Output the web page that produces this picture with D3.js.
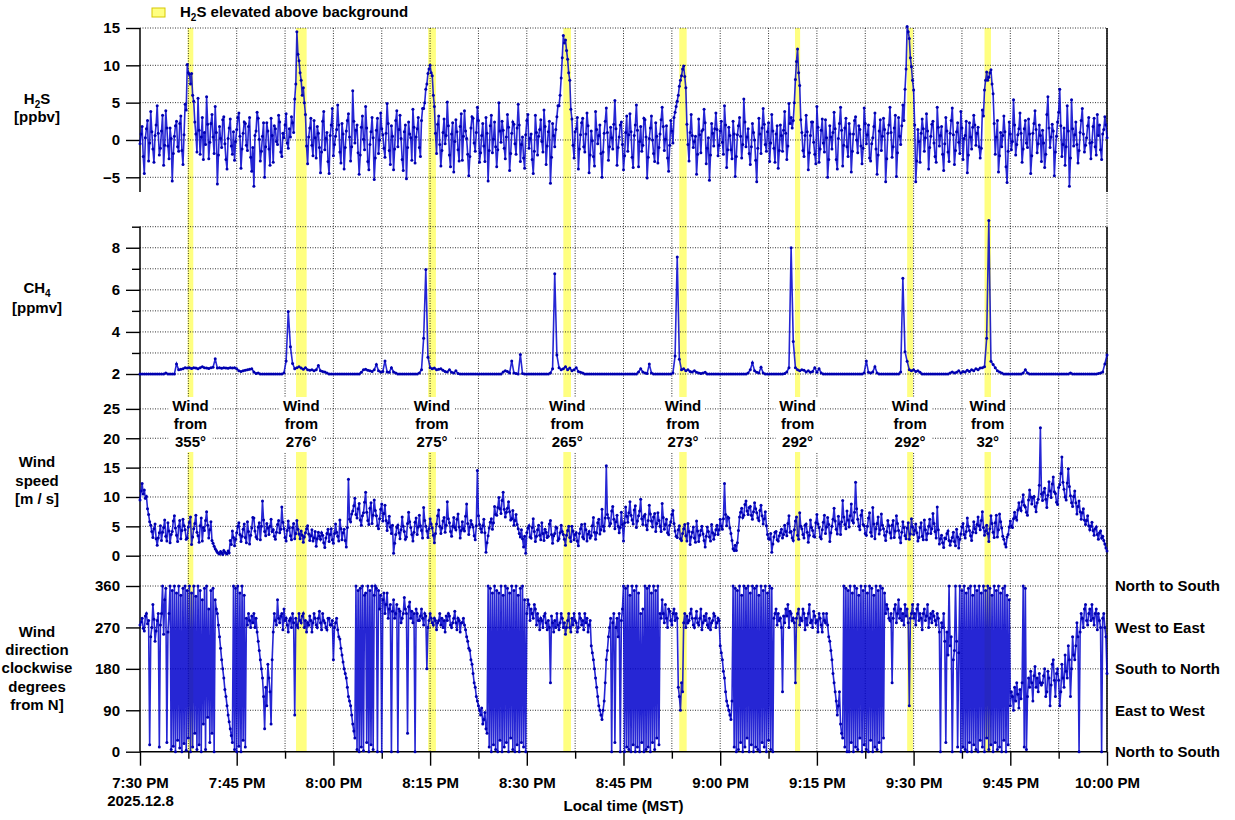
<!DOCTYPE html>
<html>
<head>
<meta charset="utf-8">
<script src="https://cdn.jsdelivr.net/npm/d3@7"></script>
<style>
  body { margin: 0; background: #fff; }
  text { font-family: "Liberation Sans", Arial, sans-serif; font-weight: bold; }
</style>
</head>
<body>
<div id="chart"></div>
<script>
// samples start at 7:30:00 PM; H2S and wind every 10 s, CH4 every 20 s
var day = "2025-12-08 ";
var startClock = "19:30:00", endClock = "22:00:00";
var fastStep = 10, ch4Step = 20;

// H2S [ppbv], 10 s
var h2s = [
  -0.5,0.8,1.8,-2.2,-4.5,0.3,1.5,2.6,-2.8,-0.4,3.8,1.1,-1.2,-3.0,0.6,2.0,4.6,0.9,-2.0,-1.1,1.2,3.3,-3.4,-0.7,3.9,1.6,-0.8,-2.5,1.6,0.2,
  -5.5,-1.8,0.5,1.9,2.5,-0.9,-1.5,2.2,3.2,-1.4,-3.3,0.7,4.8,4.0,10.1,9.0,8.8,7.5,8.9,6.0,5.2,2.4,0.8,-1.6,5.6,1.3,-1.9,0.4,3.0,-2.6,
  1.0,-0.6,5.8,2.1,-2.5,-0.3,2.2,3.4,0.4,-1.8,4.5,1.0,-5.9,-2.0,1.8,0.2,-1.0,2.7,3.1,-0.5,-2.6,-3.9,0.2,1.6,2.8,-0.8,-1.9,1.1,-2.7,-0.2,
  1.4,3.0,3.6,0.5,-3.8,-1.2,0.9,2.4,2.2,-0.7,-1.4,1.8,3.0,-2.3,-4.2,-1.0,-6.2,0.6,1.2,3.7,2.9,0.1,-2.8,-1.5,0.5,2.3,-5.0,-0.9,2.3,1.2,
  -1.2,-3.4,2.9,0.6,-3.0,1.9,1.5,-0.2,-0.6,3.3,2.4,-1.6,-2.2,0.9,0.3,2.0,3.5,-0.4,-1.1,1.5,0.4,3.1,2.3,1.0,5.5,7.5,14.5,11.5,10.6,9.0,
  8.0,6.0,7.0,5.0,3.4,-0.8,-3.2,0.4,1.6,2.9,-0.7,-2.1,2.6,0.3,-2.4,1.8,0.9,-1.0,-4.4,-1.6,2.5,3.8,-1.3,0.2,1.0,-2.9,-4.5,0.6,2.0,4.2,
  -2.1,-0.6,0.5,1.4,4.7,2.0,-1.6,-3.1,2.2,0.8,-3.9,-1.0,1.2,2.6,3.5,0.4,-2.8,-0.9,6.6,2.5,-0.4,1.3,2.0,-1.7,-4.6,-2.0,1.7,3.2,0.1,-1.3,
  4.5,1.6,-2.9,-4.0,-0.6,1.1,3.0,0.3,-5.3,-2.4,1.3,2.9,-1.8,0.0,3.6,1.5,0.7,-1.1,-2.3,0.9,4.9,2.2,-1.4,-3.3,1.9,0.5,-4.0,-1.2,2.6,3.9,
  -0.9,1.4,3.3,0.2,-2.6,-4.1,1.1,2.0,-5.2,-1.0,2.4,0.8,0.3,-2.7,4.1,1.7,-3.1,0.4,1.5,3.0,-1.0,-2.2,2.6,4.2,4.2,5.0,6.8,7.5,8.9,9.5,
  10.0,9.0,8.6,6.0,4.5,0.9,-1.8,2.1,3.2,-0.6,-3.5,-1.4,1.0,2.8,-0.5,0.6,5.1,1.9,-2.0,-3.6,0.8,2.3,-4.3,-0.2,2.7,1.1,-1.3,-2.8,1.8,3.5,
  -2.7,0.5,3.9,1.2,0.2,-1.9,-4.8,-2.2,1.6,3.1,2.9,-0.4,-1.5,1.0,4.4,2.6,-3.0,-1.7,0.6,2.2,-0.8,-2.9,3.0,0.9,-5.5,-1.4,1.9,3.3,-1.7,0.1,
  2.4,-0.9,-3.6,-1.3,5.0,1.2,-0.3,2.5,1.3,-1.1,-2.5,0.4,3.4,1.7,-4.1,-1.8,0.9,2.4,2.1,-0.5,-1.9,1.6,4.8,2.0,-2.9,-0.6,0.4,-2.4,-3.8,0.7,
  2.6,3.4,-1.1,0.2,0.8,-2.6,-4.5,-1.5,3.3,1.0,-2.0,0.5,1.4,2.7,-0.2,-1.6,4.0,1.8,-3.3,-0.8,1.1,2.5,-5.8,-2.3,2.2,0.6,-0.9,1.4,3.1,4.6,
  4.6,6.0,8.3,11.0,14.0,13.0,13.4,12.0,10.8,9.0,8.0,4.1,2.8,-0.7,-2.4,1.1,1.5,3.0,-3.9,-1.2,0.7,2.3,2.9,-0.9,-1.6,0.8,3.6,1.9,-4.4,-2.0,
  1.2,-0.1,-2.2,-3.5,3.8,1.4,-0.5,0.6,2.0,-1.8,-5.0,-1.6,0.9,2.5,4.3,1.0,-2.7,-0.9,1.7,0.3,-1.2,2.1,5.3,1.5,-3.4,-1.0,0.4,2.0,2.4,-0.6,
  -4.0,-2.1,1.0,3.2,-1.5,0.7,3.5,1.1,-2.3,-3.7,0.6,2.0,4.7,1.3,-3.6,-0.2,1.8,-1.5,-0.7,2.9,2.7,0.4,-5.1,-2.3,0.2,1.6,3.2,0.0,-1.8,-2.9,
  2.3,0.5,-3.1,-1.0,0.8,2.7,4.4,1.8,-1.4,0.1,1.9,-2.4,-4.2,-0.7,2.6,1.2,-0.4,3.0,3.7,4.5,5.2,6.0,7.2,8.0,8.6,9.5,9.9,8.5,7.0,2.1,
  -0.6,-2.8,1.0,3.4,0.6,-1.0,-0.2,0.5,-4.6,-1.9,2.8,0.7,-1.7,1.2,1.4,4.1,2.3,-3.2,-1.1,0.3,-5.4,-2.0,2.2,0.9,-0.8,1.5,3.6,1.4,-2.1,-0.7,
  1.2,2.5,-0.3,-1.9,4.6,2.0,-3.7,-1.3,1.7,0.6,-1.3,-2.5,2.5,0.8,-4.9,-2.2,0.7,1.9,3.0,0.5,-2.4,-0.6,5.5,2.4,-0.9,0.4,1.5,-1.8,-3.3,-0.9,
  2.2,1.0,0.0,-2.7,-5.6,-1.1,2.9,0.8,-1.8,1.6,4.2,2.1,-0.6,-1.5,1.1,2.3,-2.9,-0.4,3.4,1.2,-1.1,-3.0,0.8,1.9,-3.8,-1.4,2.0,0.6,-1.5,1.3,
  3.8,0.9,-2.6,-0.8,4.9,2.2,3.0,1.6,2.6,5.0,8.1,10.5,12.2,9.0,7.3,2.7,1.0,-1.4,-2.2,0.6,3.3,1.1,-4.0,-1.7,0.6,2.4,2.4,-0.3,-1.9,-3.2,
  4.5,1.7,-3.0,-1.2,1.3,2.8,-0.4,-1.6,2.7,0.3,-5.0,-2.6,1.9,0.4,-1.2,1.0,3.7,1.5,-2.6,-3.9,0.2,2.2,4.4,1.3,-3.5,-0.7,1.6,2.9,-0.9,-2.2,
  2.2,0.8,-4.3,-1.5,0.8,2.6,3.1,0.0,-1.7,1.9,1.4,-0.8,-3.2,-1.1,4.3,2.2,-0.5,0.7,2.0,-2.4,-2.8,-0.5,0.3,1.8,3.6,-1.2,-4.6,-2.0,1.2,2.7,
  -1.4,0.5,2.9,1.4,-5.6,-2.5,0.9,2.0,4.4,1.0,-2.3,-0.9,1.6,3.3,-4.9,-1.7,3.0,0.5,-0.6,1.9,4.7,2.6,6.8,9.5,15.2,14.5,13.6,11.0,9.8,8.0,
  6.7,2.0,-5.6,-2.8,1.4,-0.2,-3.0,0.9,2.8,1.5,-1.5,0.3,3.5,1.2,-3.9,-1.0,0.5,2.1,2.5,-0.4,-2.2,-3.0,4.4,1.7,-0.8,0.6,1.8,-1.9,-4.1,-0.5,
  3.0,1.2,-1.6,-2.9,0.9,2.6,4.3,0.7,-3.3,-1.4,1.1,2.3,-0.3,-1.8,3.8,1.6,-2.6,0.2,0.6,2.5,-4.4,-2.0,2.3,0.4,-1.2,1.7,3.3,2.0,-0.7,0.9,
  1.7,-0.9,-2.4,-1.1,4.0,3.2,6.7,8.0,9.1,8.0,8.4,9.0,9.4,7.5,6.2,2.2,-1.9,0.4,2.6,-4.3,-2.1,1.0,-0.9,0.6,3.2,1.1,-3.6,-5.7,-1.5,2.4,
  0.8,-1.3,-0.2,5.4,2.0,-2.0,-0.6,0.7,1.5,3.6,0.9,-3.0,-1.2,1.5,2.6,-0.4,-1.0,2.8,0.8,-4.5,-2.1,0.9,2.2,3.9,1.4,-1.7,-0.5,2.0,0.6,-2.9,
  1.3,-0.4,-3.7,-1.9,3.4,5.8,1.6,-1.0,0.4,2.1,1.2,-4.8,-1.6,0.5,2.4,3.7,6.8,1.9,-2.2,-0.6,1.6,-3.4,-0.9,4.6,1.2,-6.2,-2.4,5.4,1.5,-0.8,
  0.7,2.4,-0.6,-3.1,-1.4,1.0,2.6,4.2,0.8,-1.6,-0.7,0.3,1.9,3.0,-0.4,-2.5,-0.3,1.8,2.9,-0.9,-2.0,3.4,0.6,2.0,-1.3,-2.6,0.8,1.4,3.1,2.0,
  0.3
];

// CH4 [ppmv], 20 s
var ch4 = [
  2,2,2,2,2,2,2,2,2,2,2,2,2.05,2,2,2,2,2.48,2.2,2.22,2.25,2.3,2.28,2.3,2.26,2.3,2.28,2.25,2.3,2.35,
  2.3,2.28,2.26,2.3,2.32,2.72,2.28,2.3,2.27,2.3,2.29,2.27,2.3,2.28,2.3,2.25,2.15,2.12,2.15,2.18,2.2,2.22,2.25,2.1,2.02,2.05,2,2,2,2,
  2,2,2,2,2,2,2,2.05,2.62,4.97,3.3,2.5,2.25,2.3,2.35,2.28,2.22,2.3,2.2,2.18,2.2,2.15,2.2,2.4,2.15,2.12,2.1,2.05,2,2,
  2,2,2,2,2,2,2,2,2,2,2,2,2,2.08,2.2,2.22,2.18,2.15,2.12,2.2,2.45,2.15,2.1,2.12,2.62,2.1,2.08,2.3,2.1,2.05,
  2,2,2,2,2,2,2,2,2,2,2.05,2.2,3.7,6.97,2.8,2.3,2.25,2.28,2.2,2.22,2.25,2.18,2.12,2.1,2.2,2.08,2.05,2.15,2.02,2,
  2,2,2,2,2,2,2,2,2,2,2,2,2,2,2,2,2,2,2,2.1,2.15,2.12,2.05,2.62,2.05,2.02,2,2.93,2.02,2,
  2,2,2,2,2,2,2,2,2,2,2,2.05,2.25,6.76,2.9,2.3,2.2,2.25,2.35,2.2,2.28,2.15,2.2,2.3,2.12,2.08,2.05,2,2,2,
  2,2,2,2,2,2,2,2,2,2,2,2,2,2,2,2,2,2,2,2,2,2,2.1,2.25,2.1,2.05,2.02,2.47,2.05,2,
  2,2,2,2,2,2,2,2,2.05,2.85,7.56,2.7,2.2,2.25,2.15,2.2,2.12,2.1,2.15,2.08,2.05,2.02,2.05,2.08,2,2,2,2,2,2,
  2,2,2,2,2,2,2,2,2,2,2,2,2,2.05,2.2,2.54,2.15,2.08,2.05,2.32,2.05,2,2,2,2,2,2,2,2,2,
  2.02,2.1,2.3,8.0,3.55,2.3,2.2,2.15,2.2,2.18,2.1,2.15,2.08,2.12,2.3,2.08,2.25,2.05,2,2,2,2,2,2,2,2,2,2,2,2,
  2,2,2,2,2,2,2,2.05,2.62,2.08,2.05,2.1,2.35,2.05,2,2,2,2,2,2,2,2,2,2,2.1,6.55,3.06,2.6,2.2,2.15,
  2.2,2.12,2.15,2.08,2,2,2,2,2,2,2,2,2,2,2,2,2,2.05,2.1,2.05,2.08,2.15,2.05,2.12,2.1,2.18,2.12,2.2,2.15,2.25,
  2.2,2.28,2.3,2.35,3.7,9.3,2.6,2.45,2.3,2.15,2.1,2.05,2,2,2,2,2,2,2,2,2,2.05,2.2,2.05,2,2,2,2,2,2,
  2,2,2,2,2,2,2,2,2,2,2,2,2,2.05,2,2,2,2,2,2,2,2,2,2,2,2,2.02,2.05,2.1,2.48,
  2.9
];

// wind speed [m/s], 10 s
var windSpeed = [
  9.5,11.0,12.3,10.5,11.2,9.8,10.1,8.0,7.0,5.8,5.2,4.1,3.1,4.6,5.4,2.9,1.8,3.0,3.9,5.1,2.6,4.0,4.8,6.1,3.3,2.5,5.6,4.2,2.2,3.6,
  4.1,5.9,6.8,4.7,3.5,2.4,5.0,6.0,2.9,4.3,6.2,5.1,4.4,2.8,3.0,4.9,5.7,6.6,1.9,3.2,4.6,5.5,6.9,4.0,3.4,2.3,5.1,6.4,2.5,4.8,
  4.3,6.0,7.5,5.2,3.0,4.4,5.8,2.6,2.1,1.6,1.2,0.9,0.6,0.4,0.3,0.7,0.5,0.2,0.9,0.6,0.4,0.3,0.8,0.5,2.6,1.9,4.2,3.1,1.7,2.8,
  3.9,5.0,5.6,3.6,2.4,3.3,4.5,5.4,3.1,2.2,5.8,4.1,2.0,3.5,4.7,6.5,6.4,4.2,3.2,2.9,4.9,5.6,2.7,5.0,9.3,6.1,4.1,3.4,5.5,4.7,
  3.6,5.0,6.2,4.1,4.4,3.3,2.8,4.0,5.3,6.0,3.9,4.5,8.3,5.7,4.6,3.1,2.5,4.3,5.9,4.7,3.4,2.7,4.8,5.5,2.9,3.8,6.0,4.5,3.7,2.9,
  4.2,3.5,2.3,3.2,3.9,4.6,5.1,3.7,2.6,3.4,4.4,2.5,3.0,4.1,1.6,2.9,4.0,3.3,2.8,3.9,3.5,2.2,1.4,3.0,3.8,4.5,2.4,3.6,4.6,2.7,
  2.1,3.8,5.4,4.0,3.3,2.5,6.1,4.6,2.7,3.9,4.5,2.6,1.5,4.8,13.0,6.2,5.8,7.1,7.6,8.5,9.8,7.0,6.4,8.0,8.9,6.1,5.2,6.8,7.3,9.1,
  10.8,7.4,6.0,5.3,8.1,9.0,5.5,6.9,9.5,7.7,6.8,5.1,4.6,6.3,7.9,8.8,5.9,7.2,8.6,6.0,4.3,5.6,6.7,4.9,3.8,5.2,0.4,2.1,3.6,4.8,
  5.2,3.9,2.9,4.4,6.6,5.0,4.1,2.8,3.2,5.5,7.4,5.8,4.8,3.6,2.5,4.0,5.7,6.4,3.6,4.9,6.9,5.1,4.3,3.0,8.2,6.0,5.0,4.2,3.1,4.6,
  6.3,5.4,4.7,3.5,2.2,3.8,5.4,6.8,7.8,5.0,3.8,4.7,5.9,6.5,4.0,5.2,9.2,6.3,5.6,4.1,3.3,5.0,6.5,4.8,4.4,6.2,7.1,4.9,3.0,4.3,
  5.8,4.6,4.2,6.7,8.8,5.5,3.6,4.9,6.0,5.3,4.9,3.4,2.7,5.1,14.5,6.8,5.3,4.6,4.0,5.1,6.2,3.9,0.6,2.2,3.4,4.7,5.7,6.3,4.5,5.6,
  8.4,7.0,6.9,8.2,9.9,8.0,7.2,9.4,10.8,7.9,6.6,7.4,8.1,9.2,7.5,6.1,6.3,7.7,5.2,6.0,7.0,5.3,4.6,3.8,3.2,4.4,2.9,1.5,3.3,0.4,
  3.9,4.7,5.1,3.2,3.0,4.8,6.3,4.1,2.4,3.3,4.4,5.2,3.5,2.7,5.6,3.8,2.6,4.5,4.0,3.1,3.3,5.4,6.0,3.6,2.1,3.4,3.8,4.9,4.7,2.6,
  2.9,3.9,5.2,4.1,3.6,2.8,1.8,3.5,4.3,5.0,3.1,2.4,5.0,4.2,2.7,3.6,3.9,2.5,1.7,3.8,4.6,5.3,3.2,2.9,5.4,4.4,2.5,3.7,4.1,3.0,
  3.4,5.1,6.5,4.0,2.8,3.9,5.6,6.2,3.7,4.4,7.9,5.0,4.2,6.4,15.3,7.0,6.4,5.1,5.5,7.6,8.4,6.2,4.6,5.8,6.9,5.0,3.9,4.8,7.4,5.3,
  2.5,5.6,8.3,6.7,5.7,7.3,9.2,6.9,6.1,5.4,7.8,8.5,4.8,5.9,6.8,7.6,9.6,6.3,5.3,6.7,7.0,5.2,4.4,6.0,8.6,7.1,5.9,4.9,6.6,7.2,
  4.1,5.5,7.3,6.0,5.0,4.1,8.9,6.5,4.5,5.3,6.2,3.9,3.6,5.2,5.8,7.0,7.7,5.5,4.2,3.3,3.1,4.4,5.1,2.9,2.6,3.8,4.6,5.3,3.4,2.5,
  5.5,4.1,1.9,3.2,4.0,4.9,3.0,2.3,5.9,4.2,2.4,3.5,4.3,5.0,3.7,2.6,1.5,3.3,4.9,4.1,3.2,2.5,5.3,3.9,2.8,3.6,4.4,5.2,3.6,4.4,
  6.2,5.0,4.5,6.3,12.3,7.0,5.1,6.6,6.4,4.7,3.8,2.6,1.2,0.9,1.8,0.9,2.2,4.3,6.6,7.4,8.1,6.5,6.9,8.7,9.3,7.6,7.0,8.2,8.4,6.9,
  6.2,7.5,9.0,8.0,7.3,6.4,6.0,7.7,8.6,6.8,5.4,6.3,7.5,5.1,3.6,2.9,2.8,3.8,0.6,2.0,3.2,4.0,4.1,2.7,2.5,3.4,3.9,4.5,3.0,3.6,
  5.2,4.1,3.4,5.5,6.8,4.0,4.1,3.0,2.6,4.4,5.9,6.6,3.5,2.8,7.3,5.0,4.6,3.6,3.0,5.2,5.4,4.0,2.3,3.5,6.1,4.8,4.3,3.3,3.2,5.6,
  7.0,5.4,4.8,3.2,2.9,4.4,5.7,6.9,3.8,4.9,6.5,5.3,2.4,3.9,5.0,6.2,8.1,5.9,4.5,3.7,6.7,5.4,3.6,5.8,9.4,6.6,5.3,4.6,7.6,6.1,
  4.9,6.8,8.8,6.0,5.6,7.4,12.5,8.0,6.2,5.0,4.4,6.9,7.7,5.3,5.1,3.8,3.5,5.0,6.4,7.3,4.0,3.3,8.2,5.4,2.9,4.6,5.5,6.6,3.7,4.4,
  7.1,5.2,4.6,3.5,2.6,4.1,6.0,5.1,3.9,3.0,5.2,6.0,3.1,4.2,6.8,5.5,4.3,3.1,2.2,4.0,5.8,4.8,3.4,2.9,4.7,5.6,2.8,3.7,6.3,4.9,
  3.6,4.3,5.4,3.9,2.5,3.1,4.8,5.6,3.3,2.7,6.1,4.4,2.7,3.8,5.0,6.2,3.8,4.6,7.2,5.5,4.1,3.0,8.3,4.4,2.0,2.9,3.5,2.2,1.4,3.0,
  2.9,3.8,4.2,2.6,1.8,2.5,3.1,4.0,2.4,1.7,4.5,3.2,1.3,2.8,3.7,4.9,5.5,3.6,3.0,4.1,6.4,5.0,4.3,3.4,2.6,4.0,5.8,4.6,3.9,5.3,
  6.6,5.1,4.4,6.0,7.5,4.8,3.5,4.2,5.2,3.8,2.4,4.6,6.8,5.5,4.0,3.1,5.6,6.9,3.2,4.4,7.1,5.8,4.7,3.3,2.8,2.0,1.5,3.2,3.6,4.9,
  5.9,5.0,4.8,6.3,7.4,6.5,6.1,7.8,9.0,8.1,7.7,9.2,10.4,8.6,8.3,7.4,6.9,9.5,11.2,10.0,8.8,9.9,10.1,8.4,7.5,9.0,9.6,12.0,21.8,10.5,
  9.4,10.8,11.5,9.6,8.2,10.3,12.6,11.0,9.9,12.2,13.4,10.9,10.6,9.1,8.7,11.6,12.1,14.0,16.8,12.5,11.3,10.0,9.5,12.4,14.8,11.8,10.2,9.0,8.4,10.1,
  11.0,9.0,7.1,8.4,9.3,7.5,6.2,7.3,8.0,6.1,5.3,6.0,6.8,5.1,4.4,5.0,5.7,4.3,3.5,4.6,4.9,3.6,2.8,3.9,4.2,3.0,3.3,2.6,2.0,1.3,
  0.8
];

// wind direction [degrees clockwise from N], 10 s
var windDir = [
  275,282,290,268,262,295,300,278,285,15,250,270,320,288,240,262,285,300,10,275,300,360,255,330,355,20,260,300,360,5,
  350,12,360,0,345,25,360,8,340,0,355,18,360,3,350,30,360,0,345,10,360,40,338,5,360,15,350,0,330,60,
  355,5,360,75,310,20,350,40,355,0,330,310,300,275,250,225,200,180,160,135,120,100,80,65,50,35,20,360,5,355,
  0,360,12,345,0,360,25,340,10,290,275,300,285,270,295,280,300,270,290,260,240,220,200,180,160,120,50,140,100,190,
  160,130,60,200,260,300,285,275,330,290,280,295,300,265,310,285,290,275,260,285,290,270,300,280,80,290,275,270,300,285,
  280,295,300,270,285,260,280,275,295,285,260,280,300,290,275,270,290,305,280,265,300,285,280,270,265,290,290,275,275,285,
  200,270,280,290,265,250,245,225,210,195,180,170,160,140,120,110,100,80,60,45,30,360,5,350,0,355,10,360,2,340,
  345,20,360,0,350,15,360,5,340,360,355,0,350,310,340,0,330,345,300,320,345,290,310,320,0,305,330,290,300,320,
  0,310,305,280,290,300,335,310,300,40,315,325,290,305,280,300,0,310,300,285,285,295,310,290,275,300,295,180,270,285,
  300,290,280,275,290,285,265,280,285,300,275,290,270,285,260,295,285,300,295,275,270,280,290,305,280,265,290,285,260,280,
  280,290,275,265,250,240,225,220,200,190,170,150,140,120,110,100,90,80,95,60,70,85,50,40,360,10,355,0,345,15,
  360,5,350,0,345,25,360,0,340,10,360,20,355,0,345,30,360,5,350,0,360,15,340,0,355,20,360,10,330,0,
  300,330,320,285,310,300,290,320,310,275,300,285,265,290,285,270,295,300,280,265,285,270,150,295,280,260,285,270,300,275,
  265,280,300,290,270,280,255,270,285,300,270,260,290,275,300,285,280,260,270,300,290,275,285,265,300,280,290,260,275,285,
  230,215,200,180,160,140,120,100,90,80,70,90,110,150,200,220,250,270,290,0,280,300,20,270,290,250,300,0,285,310,
  360,0,355,10,360,5,340,0,360,15,350,0,360,10,345,0,300,20,310,0,360,5,355,10,360,0,345,20,360,5,
  350,30,360,15,300,290,330,300,280,320,290,270,310,305,285,275,300,310,285,300,290,140,120,90,150,130,280,300,270,295,
  280,285,300,310,290,275,270,290,305,280,275,290,310,265,280,295,285,300,275,270,290,265,280,285,300,295,270,280,290,285,
  230,215,200,175,160,130,110,100,90,80,70,110,360,10,355,0,350,5,360,20,340,0,360,10,355,30,360,0,345,15,
  360,0,355,10,360,5,340,0,360,20,350,10,360,0,345,25,360,5,355,0,290,300,310,275,300,285,290,270,130,295,
  280,310,295,320,270,305,300,285,290,280,150,290,300,310,275,290,285,310,300,265,290,275,300,320,280,285,270,305,295,280,
  285,260,300,290,275,260,300,285,280,300,275,250,240,220,200,170,150,130,110,80,100,130,60,40,30,360,10,355,0,350,
  0,360,20,345,0,360,10,355,5,340,30,360,0,350,15,360,5,345,0,360,25,355,0,340,10,360,5,350,20,360,
  0,355,30,345,300,320,310,290,285,300,150,290,310,320,280,300,330,290,310,285,300,275,320,295,310,280,100,290,300,320,
  290,300,275,310,320,285,300,290,265,300,310,285,295,320,270,290,300,280,305,295,285,275,300,290,260,0,280,270,300,240,
  20,260,210,360,230,250,0,200,220,360,240,10,215,360,0,350,10,360,5,345,0,355,20,360,0,340,15,360,5,350,
  0,360,25,345,10,360,0,350,30,360,5,355,15,340,0,360,20,350,5,360,10,345,0,355,25,360,0,340,15,330,
  100,130,120,90,140,110,150,125,95,135,115,150,360,10,355,5,120,160,140,175,150,110,165,185,140,160,130,170,150,145,
  150,165,180,120,130,175,160,100,145,190,200,155,120,170,180,155,100,130,190,160,140,210,175,160,230,200,120,180,250,210,
  200,230,280,250,0,260,300,290,270,310,320,285,275,300,310,285,320,290,275,300,310,265,300,285,270,0,290,300,270,250,
  170
];

// periods with H2S elevated above background
var bandStart = ["19:37:24","19:54:12","20:14:42","20:35:40","20:53:39","21:11:36","21:29:00","21:41:00"];
var bandEnd   = ["19:38:16","19:55:51","20:15:54","20:36:51","20:54:48","21:12:24","21:29:54","21:42:00"];
var windFrom  = ["355°","276°","275°","265°","273°","292°","292°","32°"];

// ticks
var timeTicks = ["19:30:00","19:45:00","20:00:00","20:15:00","20:30:00","20:45:00","21:00:00","21:15:00","21:30:00","21:45:00","22:00:00"];
var h2sTicks = [-5, 0, 5, 10, 15];
var ch4Ticks = [2, 4, 6, 8];
var ch4Minor = [3, 5, 7, 9];
var wsTicks = [0, 5, 10, 15, 20, 25];
var wdTicks = [0, 90, 180, 270, 360];
var wdNames = ["North to South", "East to West", "South to North", "West to East", "North to South"];

var W = 1235, H = 820;
var left = 140, right = 1107, bottom = 751.7;
var blue = "#0000cc";

var parseTime = d3.timeParse("%Y-%m-%d %H:%M:%S");
function clock(s) { return parseTime(day + s); }
var t0 = clock(startClock), t1 = clock(endClock);

var svg = d3.select("#chart").append("svg")
  .attr("width", W)
  .attr("height", H);

var x = d3.scaleTime().domain([t0, t1]).range([left, right]);

// one y scale per panel
var yH2S = d3.scaleLinear().domain([-5, 15]).range([177.3, 28]);
var yCH4 = d3.scaleLinear().domain([2, 9]).range([374, 226.7]);
var yWS  = d3.scaleLinear().domain([0, 25]).range([555.7, 408.9]);
var yWD  = d3.scaleLinear().domain([0, 360]).range([bottom, 586]);

// yellow bands
var bands = bandStart.map(function(s, i) { return {a: clock(s), b: clock(bandEnd[i]), label: windFrom[i]}; });
svg.append("g").selectAll("rect")
  .data(bands)
  .enter()
  .append("rect")
    .attr("x", function(d) { return x(d.a); })
    .attr("y", 28)
    .attr("width", function(d) { return x(d.b) - x(d.a); })
    .attr("height", bottom - 28)
    .attr("fill", "#ffff80");

// grid
var grid = svg.append("g")
  .attr("stroke", "#111")
  .attr("stroke-width", 1)
  .attr("stroke-dasharray", "1,1.5")
  .attr("stroke-opacity", 0.85);

var majorTimes = timeTicks.map(clock);
var minorTimes = d3.pairs(majorTimes).map(function(p) { return new Date((p[0].getTime() + p[1].getTime()) / 2); });

grid.selectAll(".vgrid")
  .data(majorTimes.concat(minorTimes).filter(function(t) { return t > t0; }))
  .enter()
  .append("line")
    .attr("x1", function(d) { return x(d); })
    .attr("x2", function(d) { return x(d); })
    .attr("y1", 28)
    .attr("y2", bottom);

function hgrid(scale, values) {
  grid.append("g").selectAll("line")
    .data(values)
    .enter()
    .append("line")
      .attr("x1", left)
      .attr("x2", right)
      .attr("y1", function(d) { return scale(d); })
      .attr("y2", function(d) { return scale(d); });
}
hgrid(yH2S, h2sTicks);
hgrid(yCH4, ch4Ticks.concat(ch4Minor));
hgrid(yWS, wsTicks);
hgrid(yWD, wdTicks.filter(function(d) { return d > 0; }));

// frame lines
var frame = svg.append("g").attr("stroke", "#000").attr("stroke-width", 1.5);
[[28, 192], [226.7, bottom]].forEach(function(s) {
  frame.append("line").attr("x1", left).attr("x2", left).attr("y1", s[0]).attr("y2", s[1]);
  frame.append("line").attr("x1", right).attr("x2", right).attr("y1", s[0]).attr("y2", s[1]);
});
frame.append("line").attr("x1", left).attr("x2", right).attr("y1", bottom).attr("y2", bottom);

// axes
function styleAxis(g) {
  g.select(".domain").remove();
  g.attr("font-family", '"Liberation Sans", Arial, sans-serif')
    .attr("font-size", 15)
    .attr("font-weight", "bold");
  g.selectAll("line").attr("stroke-width", 1.4);
  g.selectAll("text").attr("fill", "#000");
}

function leftAxis(scale, ticks, size, labels) {
  var ax = d3.axisLeft(scale).tickValues(ticks).tickSize(size).tickPadding(6)
    .tickFormat(labels ? d3.format("d") : "");
  svg.append("g")
    .attr("transform", "translate(" + left + ",0)")
    .call(ax)
    .call(styleAxis);
}
leftAxis(yH2S, h2sTicks, 14, true);
leftAxis(yCH4, ch4Ticks, 14, true);
leftAxis(yCH4, ch4Minor, 8, false);
leftAxis(yWS, wsTicks, 14, true);
leftAxis(yWD, wdTicks, 14, true);

// x axis
var xAxis = svg.append("g")
  .attr("transform", "translate(0," + bottom + ")")
  .call(d3.axisBottom(x).tickValues(majorTimes).tickSize(14).tickPadding(12)
    .tickFormat(d3.timeFormat("%-I:%M %p")))
  .call(styleAxis);
xAxis.selectAll(".tick text")
  .filter(function(d, i) { return i === 0; })
  .append("tspan")
    .attr("x", 0)
    .attr("dy", "1.2em")
    .text("2025.12.8");

svg.append("g")
  .attr("transform", "translate(0," + bottom + ")")
  .call(d3.axisBottom(x).tickValues(minorTimes).tickSize(7).tickFormat(""))
  .call(styleAxis);

svg.append("text")
  .attr("x", (left + right) / 2)
  .attr("y", 811)
  .attr("text-anchor", "middle")
  .attr("font-size", 15)
  .text("Local time (MST)");

// right labels for wind direction
svg.append("g").selectAll("text")
  .data(wdTicks)
  .enter()
  .append("text")
    .attr("x", 1115)
    .attr("y", function(d) { return yWD(d); })
    .attr("dy", "0.36em")
    .attr("font-size", 15)
    .text(function(d, i) { return wdNames[i]; });

// series
function series(values, scale, step) {
  var pts = values.map(function(v, i) { return [new Date(t0.getTime() + i * step * 1000), v]; });
  var line = d3.line()
    .x(function(d) { return x(d[0]); })
    .y(function(d) { return scale(d[1]); });
  var g = svg.append("g");
  g.append("path")
    .datum(pts)
    .attr("d", line)
    .attr("fill", "none")
    .attr("stroke", blue)
    .attr("stroke-opacity", 0.85)
    .attr("stroke-width", 1.6);
  g.selectAll("circle")
    .data(pts)
    .enter()
    .append("circle")
      .attr("cx", function(d) { return x(d[0]); })
      .attr("cy", function(d) { return scale(d[1]); })
      .attr("r", 1.5)
      .attr("fill", "#0000b0");
}
series(h2s, yH2S, fastStep);
series(ch4, yCH4, ch4Step);
series(windSpeed, yWS, fastStep);
series(windDir, yWD, fastStep);

// "Wind from" labels with white backing
var lab = svg.append("g").selectAll("g")
  .data(bands)
  .enter()
  .append("g")
    .attr("transform", function(d) { return "translate(" + (x(d.a) + x(d.b)) / 2 + ",0)"; });
lab.append("rect")
  .attr("x", -22)
  .attr("width", 44)
  .attr("y", 397)
  .attr("height", 55)
  .attr("fill", "#fff");
lab.each(function(d) {
  var g = d3.select(this);
  ["Wind", "from", d.label].forEach(function(s, k) {
    g.append("text")
      .attr("x", 0)
      .attr("y", 411 + k * 18)
      .attr("text-anchor", "middle")
      .attr("font-size", 15)
      .text(s);
  });
});

// panel labels on the left
function panelLabel(lines, y0, step) {
  var g = svg.append("g");
  lines.forEach(function(s, k) {
    var t = g.append("text")
      .attr("x", 37)
      .attr("y", y0 + k * step)
      .attr("text-anchor", "middle")
      .attr("font-size", 15);
    if (Array.isArray(s)) {
      t.append("tspan").text(s[0]);
      t.append("tspan").attr("font-size", 10).attr("dy", 4).text(s[1]);
      t.append("tspan").attr("dy", -4).text(s[2]);
    } else {
      t.text(s);
    }
  });
}
panelLabel([["H", "2", "S"], "[ppbv]"], 104, 18);
panelLabel([["CH", "4", ""], "[ppmv]"], 293, 20);
panelLabel(["Wind", "speed", "[m / s]"], 467, 18.5);
panelLabel(["Wind", "direction", "clockwise", "degrees", "from N]"], 637, 18.2);

// legend
svg.append("rect")
  .attr("x", 152)
  .attr("y", 8)
  .attr("width", 13)
  .attr("height", 9)
  .attr("fill", "#ffff80")
  .attr("stroke", "#d6c800");
var leg = svg.append("text")
  .attr("x", 180)
  .attr("y", 17)
  .attr("font-size", 15);
leg.append("tspan").text("H");
leg.append("tspan").attr("font-size", 10).attr("dy", 4).text("2");
leg.append("tspan").attr("dy", -4).text("S elevated above background");
</script>
</body>
</html>
